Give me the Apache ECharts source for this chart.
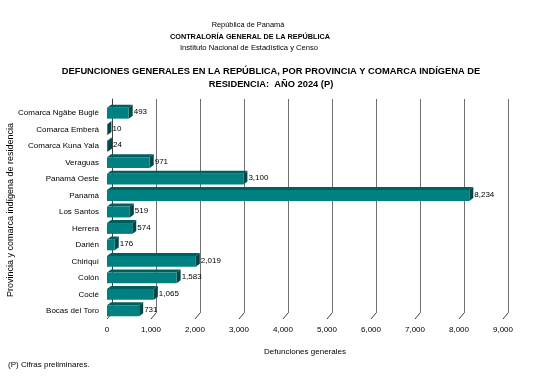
<!DOCTYPE html>
<html><head><meta charset="utf-8">
<script src="https://cdn.jsdelivr.net/npm/echarts@6/dist/echarts.min.js"></script>
<style>html,body{margin:0;padding:0;background:#fff}#c{width:544px;height:387px}</style>
</head><body><div id="c"></div>
<script>
const categories = ["Comarca Ngäbe Buglé","Comarca Emberá","Comarca Kuna Yala","Veraguas","Panamá Oeste","Panamá","Los Santos","Herrera","Darién","Chiriquí","Colón","Coclé","Bocas del Toro"];
const values = [493, 10, 24, 971, 3100, 8234, 519, 574, 176, 2019, 1583, 1065, 731];
const tickValues = [0,1000,2000,3000,4000,5000,6000,7000,8000,9000];

const FONT = '"Liberation Sans", Arial, sans-serif';
const DX = 5, DY = 6;      // wall depth
const BD = 4, BDY = 3;     // bar depth
const fmt = v => v.toLocaleString('en-US');

const chart = echarts.init(document.getElementById('c'), null, {renderer:'canvas'});
chart.setOption({
  animation:false,
  backgroundColor:'#fff',
  title:[
    {text:'República de Panamá', left:243, top:16, textAlign:'center', textStyle:{fontFamily:FONT,fontSize:7.4,fontWeight:'normal',color:'#000'}},
    {text:'CONTRALORÍA GENERAL DE LA REPÚBLICA', left:245, top:28, textAlign:'center', textStyle:{fontFamily:FONT,fontSize:7.3,fontWeight:'bold',color:'#000'}},
    {text:'Instituto Nacional de Estadística y Censo', left:244, top:39, textAlign:'center', textStyle:{fontFamily:FONT,fontSize:7.6,fontWeight:'normal',color:'#000'}},
    {text:'DEFUNCIONES GENERALES EN LA REPÚBLICA, POR PROVINCIA Y COMARCA INDÍGENA DE\nRESIDENCIA:  AÑO 2024 (P)', left:266, top:60, textAlign:'center', textStyle:{fontFamily:FONT,fontSize:9.3,fontWeight:'bold',color:'#000',lineHeight:13}}
  ],
  graphic:[
    {type:'text', left:8, top:361, style:{text:'(P) Cifras preliminares.', font:'8px '+FONT, fill:'#000'}},
    {type:'text', x:11, y:210, rotation:Math.PI/2, style:{text:'Provincia y comarca indígena de residencia', font:'9px '+FONT, fill:'#000', align:'center', verticalAlign:'middle'}}
  ],
  grid:[
    {left:107, width:396, top:105, height:214},
    {left:107+DX, width:396, top:105-DY, height:214}
  ],
  xAxis:[
    {gridIndex:0, type:'value', min:0, max:9000, interval:1000,
     name:'Defunciones generales', nameLocation:'middle', nameGap:29,
     nameTextStyle:{fontFamily:FONT,fontSize:8,color:'#000'},
     axisLine:{show:false}, axisTick:{show:false}, splitLine:{show:false},
     axisLabel:{formatter:v=>fmt(v), fontFamily:FONT, fontSize:8, color:'#000', margin:7}},
    {gridIndex:1, type:'value', min:0, max:9000, interval:1000,
     axisLine:{show:false}, axisTick:{show:false}, axisLabel:{show:false},
     splitLine:{show:true, lineStyle:{color:'#707070', width:1}}}
  ],
  yAxis:[
    {gridIndex:0, type:'category', data:categories, inverse:true,
     axisLine:{show:false}, axisTick:{show:false},
     axisLabel:{fontFamily:FONT, fontSize:8, color:'#000', margin:8}},
    {gridIndex:1, type:'category', data:categories, inverse:true,
     axisLine:{show:true, lineStyle:{color:'#404040', width:1}}, axisTick:{show:false}, axisLabel:{show:false}}
  ],
  series:[
    {
      type:'custom', xAxisIndex:0, yAxisIndex:0, silent:true,
      data: tickValues.map(v=>[v]),
      encode:{x:0},
      renderItem:(params, api)=>{
        const cs = params.coordSys;
        const p = api.coord([api.value(0), 0]);
        const yb = cs.y + cs.height;
        return {type:'line', shape:{x1:p[0], y1:yb, x2:p[0]+DX, y2:yb-DY}, style:{stroke:'#404040', lineWidth:1}};
      }
    },
    {
      type:'custom', xAxisIndex:0, yAxisIndex:0, silent:true,
      data: values.map((v,i)=>[v,i]),
      encode:{x:0, y:1},
      renderItem:(params, api)=>{
        const v = api.value(0), i = api.value(1);
        const p0 = api.coord([0, i]);
        const p1 = api.coord([v, i]);
        const band = api.size([0,1])[1];
        const h = band*0.66;
        const x0 = p0[0], x1 = p1[0], y0 = p0[1]-h/2, y1 = p0[1]+h/2;
        return {type:'group', children:[
          {type:'polygon', shape:{points:[[x0,y0],[x0+BD,y0-BDY],[x1+BD,y0-BDY],[x1,y0]]}, style:{fill:'#005e5e'}},
          {type:'polygon', shape:{points:[[x1,y0],[x1+BD,y0-BDY],[x1+BD,y1-BDY],[x1,y1]]}, style:{fill:'#004848'}},
          {type:'rect', shape:{x:x0, y:y0, width:Math.max(x1-x0,0.5), height:h}, style:{fill:'#008080'}},
          {type:'text', x:x1+BD+1, y:p0[1]-1, style:{text:fmt(v), font:'8px '+FONT, fill:'#000', align:'left', verticalAlign:'middle'}}
        ]};
      }
    }
  ]
});
</script></body></html>
